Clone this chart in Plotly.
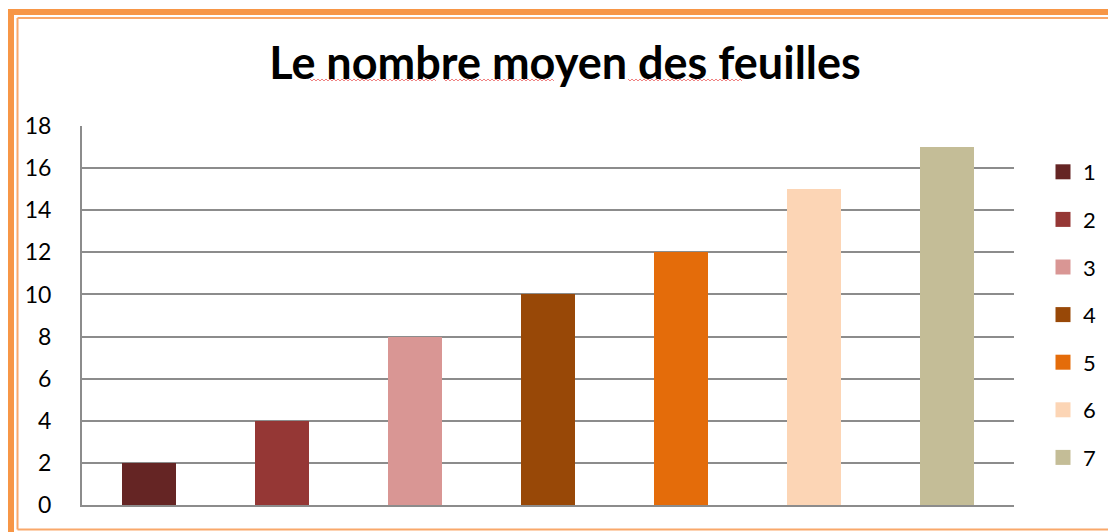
import plotly.graph_objects as go

# Data
categories = ["1", "2", "3", "4", "5", "6", "7"]
values = [2, 4, 8, 10, 12, 15, 17]
colors = ["#652524", "#953735", "#D99694", "#984807", "#E46C0A", "#FCD5B5", "#C4BD97"]
y_ticks = [0, 2, 4, 6, 8, 10, 12, 14, 16, 18]

W, H = 1108, 532
ML, MR, MT, MB = 82, 94, 126, 27
PW, PH = W - ML - MR, H - MT - MB

FONT = "Lato"


def px_x(x):
    return (x - ML) / PW


def px_y(y):
    return (H - MB - y) / PH


fig = go.Figure()

for cat, val, col in zip(categories, values, colors):
    fig.add_trace(go.Bar(
        x=[cat], y=[val], name=cat, marker=dict(color=col, line=dict(width=0)),
        width=0.405, showlegend=False, hoverinfo="x+y",
    ))

# Legend entries with square swatches
for i, (cat, col) in enumerate(zip(categories, colors)):
    fig.add_trace(go.Scatter(
        x=[None], y=[None], mode="markers", name=cat,
        marker=dict(symbol="square", size=15, color=col),
        legendgroup=f"g{i}", showlegend=True,
    ))

shapes = []
# Orange frame: thick outer line and thin inner line
orange = "#F79646"
thin = "#F9A86A"
shapes.append(dict(type="line", xref="paper", yref="paper",
                   x0=px_x(11), x1=px_x(W + 20), y0=px_y(12), y1=px_y(12),
                   line=dict(color=orange, width=6)))
shapes.append(dict(type="line", xref="paper", yref="paper",
                   x0=px_x(11), x1=px_x(11), y0=px_y(9), y1=px_y(H + 20),
                   line=dict(color=orange, width=6)))
shapes.append(dict(type="line", xref="paper", yref="paper",
                   x0=px_x(17.5), x1=px_x(W + 20), y0=px_y(18), y1=px_y(18),
                   line=dict(color=thin, width=2)))
shapes.append(dict(type="line", xref="paper", yref="paper",
                   x0=px_x(17.5), x1=px_x(17.5), y0=px_y(18), y1=px_y(529.5),
                   line=dict(color=thin, width=2)))
shapes.append(dict(type="line", xref="paper", yref="paper",
                   x0=px_x(17.5), x1=px_x(W + 20), y0=px_y(529.5), y1=px_y(529.5),
                   line=dict(color=thin, width=2)))


# Wavy spell-check underlines under the title words
def wavy(x0, x1, y, amp=1.0, step=2.0):
    pts = []
    x = x0
    k = 0
    while x <= x1:
        yy = y + (amp if k % 2 else -amp)
        pts.append(f"{px_x(x):.6f},{px_y(yy):.6f}")
        x += step
        k += 1
    return "M" + " L".join(pts)


for a, b in [(310, 436), (444, 554), (628, 743)]:
    shapes.append(dict(type="path", xref="paper", yref="paper",
                       path=wavy(a, b, 80), line=dict(color="#F08080", width=1)))

fig.update_layout(
    width=W, height=H,
    margin=dict(l=ML, r=MR, t=MT, b=MB, autoexpand=False),
    paper_bgcolor="white", plot_bgcolor="white",
    barmode="overlay",
    bargap=0,
    title=dict(text="<b>Le nombre moyen des feuilles</b>",
               font=dict(family=FONT, size=45, color="black"),
               x=565 / W, xanchor="center",
               y=1 - 63 / H, yanchor="middle"),
    font=dict(family=FONT, size=22, color="black"),
    xaxis=dict(type="category", categoryorder="array", categoryarray=categories,
               showticklabels=False, showgrid=False, ticks="",
               showline=True, linecolor="#8C8C8C", linewidth=2, zeroline=False),
    yaxis=dict(range=[0, 18], tickvals=y_ticks, ticktext=[str(v) for v in y_ticks],
               showgrid=True, gridcolor="#8C8C8C", gridwidth=2,
               showline=True, linecolor="#8C8C8C", linewidth=2, mirror=False,
               zeroline=False, ticks="", ticklabelstandoff=24,
               tickfont=dict(family=FONT, size=23, color="black")),
    legend=dict(x=px_x(1043), xanchor="left", y=px_y(151), yanchor="top",
                font=dict(family=FONT, size=22, color="black"),
                tracegroupgap=16, itemwidth=30, bgcolor="rgba(0,0,0,0)"),
    shapes=shapes,
)

fig.write_html("out.html")
